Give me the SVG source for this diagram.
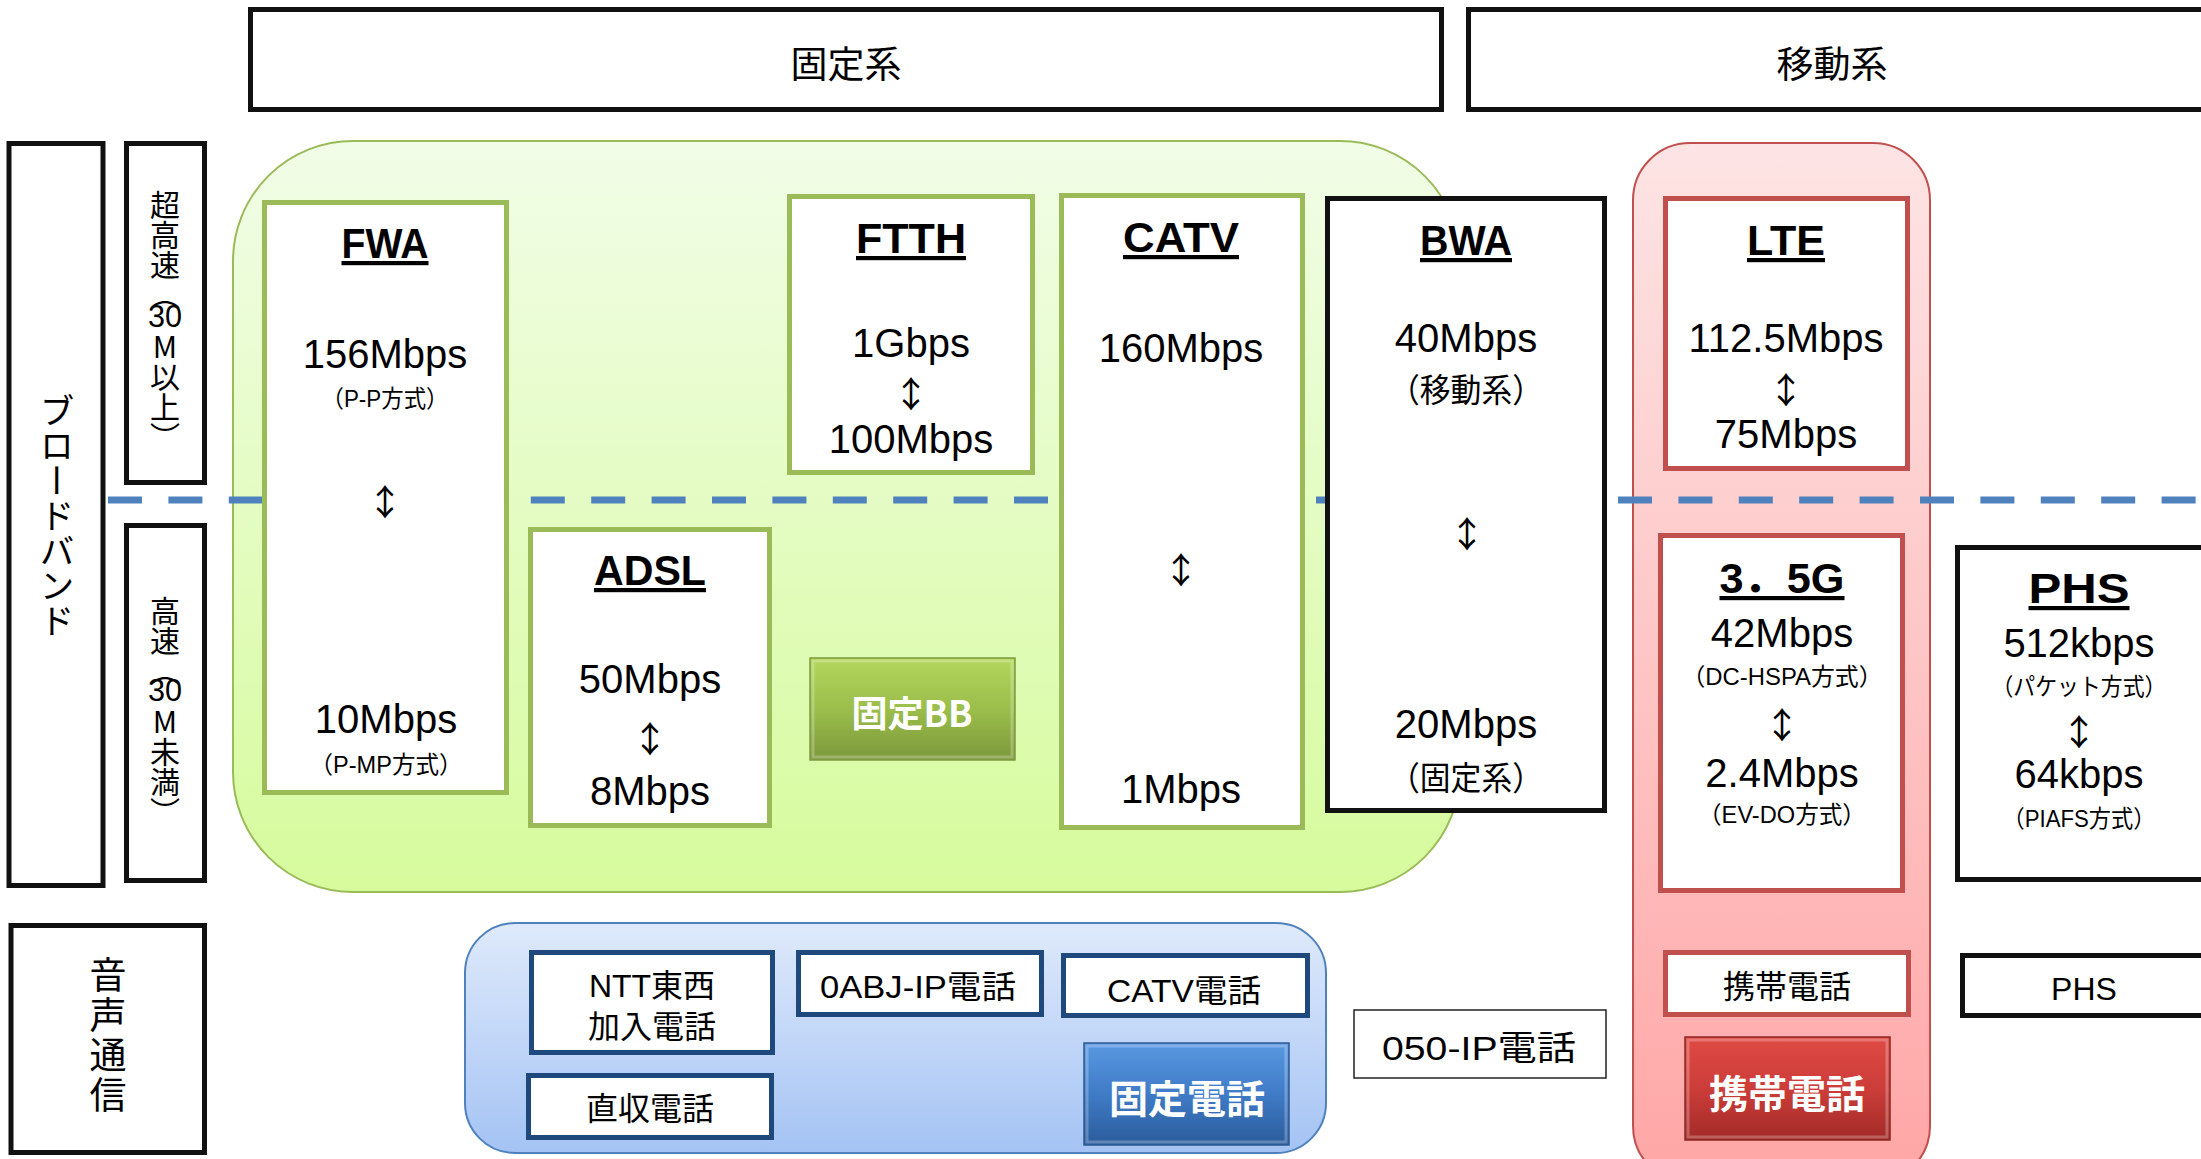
<svg xmlns="http://www.w3.org/2000/svg" width="2201" height="1159" viewBox="0 0 2201 1159">
<defs>
<linearGradient id="gBg" x1="0" y1="0" x2="0" y2="1"><stop offset="0" stop-color="#F1FDE7"/><stop offset="1" stop-color="#D6FB9C"/></linearGradient>
<linearGradient id="rBg" x1="0" y1="0" x2="0" y2="1"><stop offset="0" stop-color="#FDE4E4"/><stop offset="1" stop-color="#FFA6A6"/></linearGradient>
<linearGradient id="bBg" x1="0" y1="0" x2="0" y2="1"><stop offset="0" stop-color="#DFEAFB"/><stop offset="1" stop-color="#A4C3F4"/></linearGradient>
<linearGradient id="gBtn" x1="0" y1="0" x2="0" y2="1"><stop offset="0" stop-color="#B3D65C"/><stop offset="0.5" stop-color="#9BBE4C"/><stop offset="1" stop-color="#7C983A"/></linearGradient>
<linearGradient id="bBtn" x1="0" y1="0" x2="0" y2="1"><stop offset="0" stop-color="#5A98E2"/><stop offset="0.5" stop-color="#3F7BC6"/><stop offset="1" stop-color="#2B5C9C"/></linearGradient>
<linearGradient id="rBtn" x1="0" y1="0" x2="0" y2="1"><stop offset="0" stop-color="#E04A45"/><stop offset="0.5" stop-color="#CC3D39"/><stop offset="1" stop-color="#A22B28"/></linearGradient>
<style>
.box{fill:#fff;stroke:#111;stroke-width:5}
.gbox{fill:#fff;stroke:#9BBB59;stroke-width:5}
.rbox{fill:#fff;stroke:#C0504D;stroke-width:5}
.nbox{fill:#fff;stroke:#1F497D;stroke-width:5}
.bevel{fill:none;stroke:#fff;stroke-opacity:0.25;stroke-width:3}
text{font-family:"Liberation Sans","Noto Sans CJK JP",sans-serif;fill:#000;text-anchor:middle}
.j{font-family:"Noto Sans CJK JP",sans-serif}
.t{font-size:42px;font-weight:bold;text-decoration:underline}
.r{font-size:40px}
.s{font-size:24px}
.a{font-size:36px;font-family:"Noto Sans CJK JP",sans-serif;dominant-baseline:central}
.p{font-size:32px}
.v{font-family:"Noto Sans CJK JP",sans-serif;writing-mode:vertical-rl;text-orientation:upright;text-anchor:start}
.btn{fill:#fff;font-weight:bold;font-family:"Noto Sans CJK JP",sans-serif}
</style>
</defs>
<rect width="2201" height="1159" fill="#fff"/>

<g id="backgrounds">
<rect id="bg-fixed" x="233" y="141" width="1227" height="751" rx="120" ry="120" fill="url(#gBg)" stroke="#9BBB59" stroke-width="2"/>
<rect id="bg-mobile" x="1633" y="143" width="297" height="1040" rx="57" ry="57" fill="url(#rBg)" stroke="#C0504D" stroke-width="2"/>
<rect id="bg-phone" x="465" y="923" width="861" height="230" rx="50" ry="50" fill="url(#bBg)" stroke="#4F81BD" stroke-width="2"/>
</g>

<g id="divider">
<line x1="108" y1="500" x2="2201" y2="500" stroke="#4F81BD" stroke-width="7" stroke-dasharray="34 26.4"/>
</g>

<g id="hdr-fixed"><rect class="box" x="250.5" y="9.5" width="1191" height="100"/><text class="j" x="846" y="78" font-size="37">固定系</text></g>
<g id="hdr-mobile"><rect class="box" x="1468.5" y="9.5" width="745" height="100"/><text class="j" x="1832" y="78" font-size="37">移動系</text></g>

<g id="lbl-broadband"><rect class="box" x="9" y="143.5" width="94" height="742"/><text class="v" x="57" y="393" font-size="35">ブロードバンド</text></g>
<g id="lbl-super"><rect class="box" x="126.5" y="143.5" width="78" height="339"/>
<text class="v" x="165" y="190" font-size="30">超高速（</text>
<text x="165" y="327" font-size="31" textLength="34" lengthAdjust="spacingAndGlyphs">30</text>
<text class="v" x="165" y="332" font-size="30">M以上）</text></g>
<g id="lbl-high"><rect class="box" x="126.5" y="525.5" width="78" height="355"/>
<text class="v" x="165" y="596" font-size="30">高速（</text>
<text x="165" y="701" font-size="31" textLength="34" lengthAdjust="spacingAndGlyphs">30</text>
<text class="v" x="165" y="707" font-size="30">M未満）</text></g>
<g id="lbl-voice"><rect class="box" x="11" y="925.5" width="193.5" height="227"/><text class="v" x="108" y="956" font-size="37" letter-spacing="3">音声通信</text></g>

<g id="FWA"><rect class="gbox" x="264.5" y="202.5" width="242" height="590"/>
<text class="t" x="385" y="258" textLength="87" lengthAdjust="spacingAndGlyphs">FWA</text>
<text class="r" x="385" y="368">156Mbps</text>
<text class="s" x="385" y="407" textLength="127" lengthAdjust="spacingAndGlyphs">（P-P方式）</text>
<text class="a" x="385" y="500">↕</text>
<text class="r" x="386" y="733" font-size="39">10Mbps</text>
<text class="s" x="386" y="773" textLength="153" lengthAdjust="spacingAndGlyphs">（P-MP方式）</text></g>

<g id="ADSL"><rect class="gbox" x="530.5" y="529.5" width="239" height="296"/>
<text class="t" x="650" y="585" textLength="112" lengthAdjust="spacingAndGlyphs">ADSL</text>
<text class="r" x="650" y="693">50Mbps</text>
<text class="a" x="650" y="737">↕</text>
<text class="r" x="650" y="805">8Mbps</text></g>

<g id="FTTH"><rect class="gbox" x="789.5" y="196.5" width="243" height="276"/>
<text class="t" x="911" y="253" textLength="110" lengthAdjust="spacingAndGlyphs">FTTH</text>
<text class="r" x="911" y="357" font-size="34">1Gbps</text>
<text class="a" x="911" y="392">↕</text>
<text class="r" x="911" y="453" font-size="35">100Mbps</text></g>

<g id="btn-fixedBB"><rect x="810" y="658" width="205" height="102" fill="url(#gBtn)" stroke="#7E9B3E" stroke-width="1.5"/><rect class="bevel" x="813" y="661" width="199" height="96"/>
<text class="btn" x="912" y="727" font-size="36">固定BB</text></g>

<g id="CATV"><rect class="gbox" x="1061.5" y="195.5" width="241" height="632"/>
<text class="t" x="1181" y="252" textLength="116" lengthAdjust="spacingAndGlyphs">CATV</text>
<text class="r" x="1181" y="362">160Mbps</text>
<text class="a" x="1181" y="568">↕</text>
<text class="r" x="1181" y="803" font-size="39">1Mbps</text></g>

<g id="BWA"><rect class="box" x="1327.5" y="198.5" width="277" height="612"/>
<text class="t" x="1466" y="255" textLength="92" lengthAdjust="spacingAndGlyphs">BWA</text>
<text class="r" x="1466" y="352" font-size="36">40Mbps</text>
<text x="1466" y="402" font-size="33" textLength="154" lengthAdjust="spacingAndGlyphs">（移動系）</text>
<text class="a" x="1467" y="532">↕</text>
<text class="r" x="1466" y="738" font-size="36">20Mbps</text>
<text x="1466" y="790" font-size="33" textLength="154" lengthAdjust="spacingAndGlyphs">（固定系）</text></g>

<g id="LTE"><rect class="rbox" x="1665.5" y="198.5" width="242" height="270"/>
<text class="t" x="1786" y="255" textLength="78" lengthAdjust="spacingAndGlyphs">LTE</text>
<text class="r" x="1786" y="352" font-size="39">112.5Mbps</text>
<text class="a" x="1786" y="388">↕</text>
<text class="r" x="1786" y="448" font-size="35">75Mbps</text></g>

<g id="G35"><rect class="rbox" x="1660.5" y="535.5" width="242" height="355"/>
<text class="t" x="1782" y="593" textLength="125" lengthAdjust="spacingAndGlyphs">3．5G</text>
<text class="r" x="1782" y="647" font-size="41">42Mbps</text>
<text class="s" x="1782" y="685" textLength="201" lengthAdjust="spacingAndGlyphs">（DC-HSPA方式）</text>
<text class="a" x="1782" y="723">↕</text>
<text class="r" x="1782" y="787">2.4Mbps</text>
<text class="s" x="1782" y="823" textLength="168" lengthAdjust="spacingAndGlyphs">（EV-DO方式）</text></g>

<g id="PHS"><rect class="box" x="1957.5" y="547.5" width="255" height="332"/>
<text class="t" x="2079" y="603" textLength="101" lengthAdjust="spacingAndGlyphs">PHS</text>
<text class="r" x="2079" y="657" font-size="41">512kbps</text>
<text class="s" x="2079" y="695" textLength="175" lengthAdjust="spacingAndGlyphs">（パケット方式）</text>
<text class="a" x="2079" y="730">↕</text>
<text class="r" x="2079" y="788" font-size="35">64kbps</text>
<text class="s" x="2079" y="827" textLength="153" lengthAdjust="spacingAndGlyphs">（PIAFS方式）</text></g>

<g id="tel-ntt"><rect class="nbox" x="531.5" y="952.5" width="241" height="100"/>
<text class="p" x="652" y="997">NTT東西</text><text class="p" x="652" y="1038">加入電話</text></g>
<g id="tel-direct"><rect class="nbox" x="528.5" y="1075.5" width="243" height="62"/>
<text class="p" x="650" y="1120">直収電話</text></g>
<g id="tel-0abj"><rect class="nbox" x="798.5" y="952.5" width="243" height="62"/>
<text class="p" x="918" y="998" textLength="196" lengthAdjust="spacingAndGlyphs">0ABJ-IP電話</text></g>
<g id="tel-catv"><rect class="nbox" x="1063.5" y="955.5" width="244" height="60"/>
<text class="p" x="1184" y="1002" textLength="154" lengthAdjust="spacingAndGlyphs">CATV電話</text></g>
<g id="btn-fixedtel"><rect x="1084" y="1043" width="205" height="102" fill="url(#bBtn)" stroke="#2C5A94" stroke-width="1.5"/><rect class="bevel" x="1087" y="1046" width="199" height="96"/>
<text class="btn" x="1187" y="1113" font-size="39">固定電話</text></g>

<g id="tel-050"><rect x="1354" y="1010" width="252" height="68" fill="#fff" stroke="#222" stroke-width="1.5"/>
<text x="1479" y="1060" font-size="34" textLength="194" lengthAdjust="spacingAndGlyphs">050-IP電話</text></g>

<g id="tel-mobile"><rect class="rbox" x="1665.5" y="952.5" width="243" height="62"/>
<text class="p" x="1787" y="998" font-size="33">携帯電話</text></g>
<g id="btn-mobile"><rect x="1685" y="1037" width="205" height="103" fill="url(#rBtn)" stroke="#8E2623" stroke-width="1.5"/><rect class="bevel" x="1688" y="1040" width="199" height="97"/>
<text class="btn" x="1787" y="1108" font-size="39">携帯電話</text></g>

<g id="tel-phs"><rect class="box" x="1962.5" y="955.5" width="250" height="60"/>
<text class="p" x="2084" y="1000">PHS</text></g>
</svg>
